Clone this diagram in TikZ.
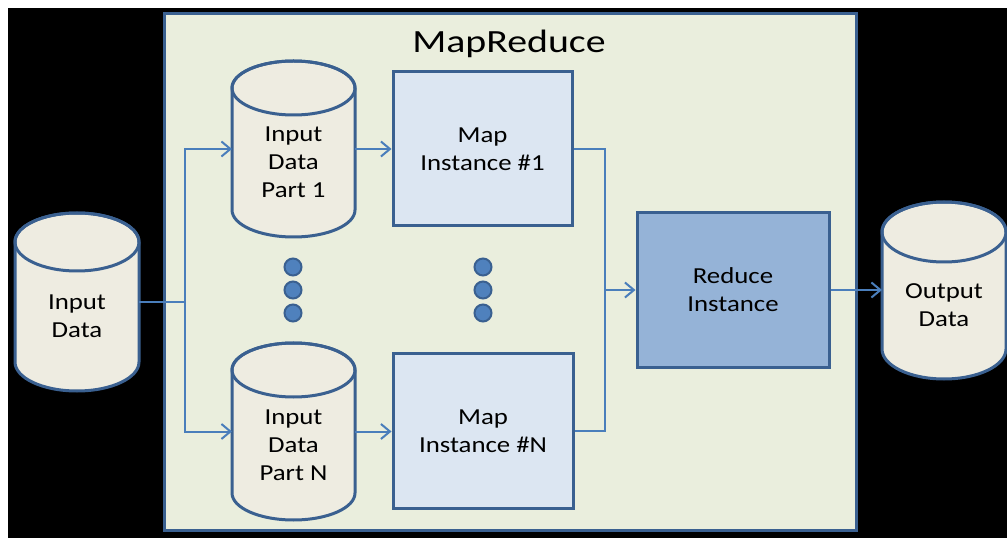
\documentclass[tikz,border=0pt]{standalone}
\usepackage{fontspec}
\setmainfont{Carlito}
\newfontfamily\lblfont[FakeStretch=1.17]{Carlito}
\newfontfamily\titlefont[FakeStretch=1.23]{Carlito}
\usetikzlibrary{arrows.meta}
\definecolor{bordblue}{HTML}{3A6090}
\definecolor{connblue}{HTML}{4A7EBB}
\definecolor{mrfill}{HTML}{EAEEDD}
\definecolor{cylfill}{HTML}{EEECE1}
\definecolor{mapfill}{HTML}{DCE6F2}
\definecolor{redfill}{HTML}{95B3D7}
\definecolor{dotfill}{HTML}{4F81BD}
\tikzset{
  conn/.style={draw=connblue, line width=2bp},
  arr/.style={-{Straight Barb[length=9bp,width=15bp]}},
  lbl/.style={font=\lblfont\fontsize{23}{28}\selectfont, align=center, text=black, inner sep=0},
  procbox/.style={draw=bordblue, line width=3bp, inner sep=0, font=\lblfont\fontsize{23}{28}\selectfont, align=center},
  dotnode/.style={circle, fill=dotfill, draw=bordblue, line width=2bp, minimum size=17bp, inner sep=0}
}
\newcommand\dbcyl[7]{%
  \path[fill=cylfill, draw=bordblue, line width=3bp, line join=round]
    ({#2-#5},{#3+#6}) -- ({#2-#5},{#4-#6})
    .. controls ({#2-#5},{#4-#6+0.5523*#6}) and ({#2-0.5523*#5},{#4}) .. ({#2},{#4})
    .. controls ({#2+0.5523*#5},{#4}) and ({#2+#5},{#4-#6+0.5523*#6}) .. ({#2+#5},{#4-#6})
    -- ({#2+#5},{#3+#6})
    .. controls ({#2+#5},{#3+#6-0.5523*#6}) and ({#2+0.5523*#5},{#3}) .. ({#2},{#3})
    .. controls ({#2-0.5523*#5},{#3}) and ({#2-#5},{#3+#6-0.5523*#6}) .. cycle;
  \draw[bordblue, line width=3bp] ({#2},{#3+#6}) ellipse [x radius=#5, y radius=#6];
  \node[inner sep=0, outer sep=0, minimum width={2*#5*1bp}, minimum height={(#4-#3)*1bp}] (#1) at ({#2},{(#3+#4)/2}) {};
  \node[lbl] (#1-t) at ({#2},{(#3+#4)/2+#6/2}) {#7};
}
\begin{document}
\begin{tikzpicture}[x=1bp, y=-1bp]
  \useasboundingbox (0,0) rectangle (1007,538);
  \fill[white] (0,0) rectangle (1007,538);
  \fill[black] (8,8) rectangle (1007,538);

  % MapReduce frame
  \node[draw=bordblue, fill=mrfill, line width=3bp, minimum width=691bp, minimum height=516bp, inner sep=0] (mr) at (510.5,272) {};
  \node[font=\titlefont\fontsize{32.5}{36}\selectfont, anchor=base, inner sep=0] (title) at (509,53) {MapReduce};

  % cylinders
  \dbcyl{inD}{77}{213}{391}{62}{29}{Input\\Data}
  \dbcyl{in1}{293.5}{61}{237}{61.5}{27}{Input\\Data\\Part 1}
  \dbcyl{inN}{293.5}{343}{520}{61.5}{27}{Input\\Data\\Part N}
  \dbcyl{out}{944}{202}{379}{62}{30}{Output\\Data}

  % process boxes
  \node[procbox, fill=mapfill, minimum width=179bp, minimum height=154bp] (map1) at (482.5,149) {Map\\Instance \#1};
  \node[procbox, fill=mapfill, minimum width=180bp, minimum height=154bp] (mapN) at (483,431) {Map\\Instance \#N};
  \node[procbox, fill=redfill, minimum width=192bp, minimum height=155bp] (red) at (733,290) {Reduce\\Instance};

  % dots
  \node[dotnode] (d1) at (293,267) {};
  \node[dotnode] (d2) at (293,290) {};
  \node[dotnode] (d3) at (293,313) {};
  \node[dotnode] (d4) at (483,267) {};
  \node[dotnode] (d5) at (483,290) {};
  \node[dotnode] (d6) at (483,313) {};

  % connectors
  \coordinate (split) at (185,301);
  \coordinate (merge) at (605,290);
  \draw[conn] (inD.east) -- (inD.east -| split);
  \draw[conn, arr] (inD.east -| split) |- (in1.west);
  \draw[conn, arr] (inD.east -| split) |- (inN.west);
  \draw[conn, arr] (in1.east) -- (map1.west);
  \draw[conn, arr] (inN.east) -- (inN.east -| mapN.west);
  \draw[conn] (map1.east) -| (merge);
  \draw[conn] (mapN.east) -| (merge);
  \draw[conn, arr] (merge) -- (red.west);
  \draw[conn, arr] (red.east) -- (red.east -| out.west);
\end{tikzpicture}
\end{document}
